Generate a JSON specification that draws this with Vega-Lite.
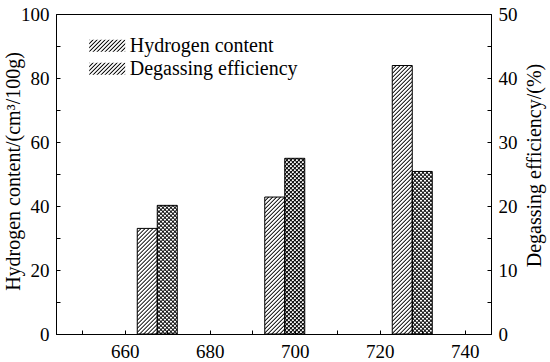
{
  "$schema": "https://vega.github.io/schema/vega-lite/v6.json",
  "autosize": "none",
  "width": 435,
  "height": 320,
  "padding": {"left": 56, "top": 14, "right": 59, "bottom": 28},
  "background": "white",
  "params": [
    {"name": "S", "value": [
      {"offset":0,"color":"#000"},{"offset":0.004,"color":"#0000"},{"offset":0.0085,"color":"#0000"},
      {"offset":0.0125,"color":"#000"},{"offset":0.0165,"color":"#0000"},{"offset":0.021,"color":"#0000"},
      {"offset":0.025,"color":"#000"},{"offset":0.029,"color":"#0000"},{"offset":0.0335,"color":"#0000"},
      {"offset":0.0375,"color":"#000"},{"offset":0.0415,"color":"#0000"},{"offset":0.046,"color":"#0000"},
      {"offset":0.05,"color":"#000"},{"offset":0.054,"color":"#0000"},{"offset":0.0585,"color":"#0000"},
      {"offset":0.0625,"color":"#000"},{"offset":0.0665,"color":"#0000"},{"offset":0.071,"color":"#0000"},
      {"offset":0.075,"color":"#000"},{"offset":0.079,"color":"#0000"},{"offset":0.0835,"color":"#0000"},
      {"offset":0.0875,"color":"#000"},{"offset":0.0915,"color":"#0000"},{"offset":0.096,"color":"#0000"},
      {"offset":0.1,"color":"#000"},{"offset":0.104,"color":"#0000"},{"offset":0.1085,"color":"#0000"},
      {"offset":0.1125,"color":"#000"},{"offset":0.1165,"color":"#0000"},{"offset":0.121,"color":"#0000"},
      {"offset":0.125,"color":"#000"},{"offset":0.129,"color":"#0000"},{"offset":0.1335,"color":"#0000"},
      {"offset":0.1375,"color":"#000"},{"offset":0.1415,"color":"#0000"},{"offset":0.146,"color":"#0000"},
      {"offset":0.15,"color":"#000"},{"offset":0.154,"color":"#0000"},{"offset":0.1585,"color":"#0000"},
      {"offset":0.1625,"color":"#000"},{"offset":0.1665,"color":"#0000"},{"offset":0.171,"color":"#0000"},
      {"offset":0.175,"color":"#000"},{"offset":0.179,"color":"#0000"},{"offset":0.1835,"color":"#0000"},
      {"offset":0.1875,"color":"#000"},{"offset":0.1915,"color":"#0000"},{"offset":0.196,"color":"#0000"},
      {"offset":0.2,"color":"#000"},{"offset":0.204,"color":"#0000"},{"offset":0.2085,"color":"#0000"},
      {"offset":0.2125,"color":"#000"},{"offset":0.2165,"color":"#0000"},{"offset":0.221,"color":"#0000"},
      {"offset":0.225,"color":"#000"},{"offset":0.229,"color":"#0000"},{"offset":0.2335,"color":"#0000"},
      {"offset":0.2375,"color":"#000"},{"offset":0.2415,"color":"#0000"},{"offset":0.246,"color":"#0000"},
      {"offset":0.25,"color":"#000"},{"offset":0.254,"color":"#0000"},{"offset":0.2585,"color":"#0000"},
      {"offset":0.2625,"color":"#000"},{"offset":0.2665,"color":"#0000"},{"offset":0.271,"color":"#0000"},
      {"offset":0.275,"color":"#000"},{"offset":0.279,"color":"#0000"},{"offset":0.2835,"color":"#0000"},
      {"offset":0.2875,"color":"#000"},{"offset":0.2915,"color":"#0000"},{"offset":0.296,"color":"#0000"},
      {"offset":0.3,"color":"#000"},{"offset":0.304,"color":"#0000"},{"offset":0.3085,"color":"#0000"},
      {"offset":0.3125,"color":"#000"},{"offset":0.3165,"color":"#0000"},{"offset":0.321,"color":"#0000"},
      {"offset":0.325,"color":"#000"},{"offset":0.329,"color":"#0000"},{"offset":0.3335,"color":"#0000"},
      {"offset":0.3375,"color":"#000"},{"offset":0.3415,"color":"#0000"},{"offset":0.346,"color":"#0000"},
      {"offset":0.35,"color":"#000"},{"offset":0.354,"color":"#0000"},{"offset":0.3585,"color":"#0000"},
      {"offset":0.3625,"color":"#000"},{"offset":0.3665,"color":"#0000"},{"offset":0.371,"color":"#0000"},
      {"offset":0.375,"color":"#000"},{"offset":0.379,"color":"#0000"},{"offset":0.3835,"color":"#0000"},
      {"offset":0.3875,"color":"#000"},{"offset":0.3915,"color":"#0000"},{"offset":0.396,"color":"#0000"},
      {"offset":0.4,"color":"#000"},{"offset":0.404,"color":"#0000"},{"offset":0.4085,"color":"#0000"},
      {"offset":0.4125,"color":"#000"},{"offset":0.4165,"color":"#0000"},{"offset":0.421,"color":"#0000"},
      {"offset":0.425,"color":"#000"},{"offset":0.429,"color":"#0000"},{"offset":0.4335,"color":"#0000"},
      {"offset":0.4375,"color":"#000"},{"offset":0.4415,"color":"#0000"},{"offset":0.446,"color":"#0000"},
      {"offset":0.45,"color":"#000"},{"offset":0.454,"color":"#0000"},{"offset":0.4585,"color":"#0000"},
      {"offset":0.4625,"color":"#000"},{"offset":0.4665,"color":"#0000"},{"offset":0.471,"color":"#0000"},
      {"offset":0.475,"color":"#000"},{"offset":0.479,"color":"#0000"},{"offset":0.4835,"color":"#0000"},
      {"offset":0.4875,"color":"#000"},{"offset":0.4915,"color":"#0000"},{"offset":0.496,"color":"#0000"},
      {"offset":0.5,"color":"#000"},{"offset":0.504,"color":"#0000"},{"offset":0.5085,"color":"#0000"},
      {"offset":0.5125,"color":"#000"},{"offset":0.5165,"color":"#0000"},{"offset":0.521,"color":"#0000"},
      {"offset":0.525,"color":"#000"},{"offset":0.529,"color":"#0000"},{"offset":0.5335,"color":"#0000"},
      {"offset":0.5375,"color":"#000"},{"offset":0.5415,"color":"#0000"},{"offset":0.546,"color":"#0000"},
      {"offset":0.55,"color":"#000"},{"offset":0.554,"color":"#0000"},{"offset":0.5585,"color":"#0000"},
      {"offset":0.5625,"color":"#000"},{"offset":0.5665,"color":"#0000"},{"offset":0.571,"color":"#0000"},
      {"offset":0.575,"color":"#000"},{"offset":0.579,"color":"#0000"},{"offset":0.5835,"color":"#0000"},
      {"offset":0.5875,"color":"#000"},{"offset":0.5915,"color":"#0000"},{"offset":0.596,"color":"#0000"},
      {"offset":0.6,"color":"#000"},{"offset":0.604,"color":"#0000"},{"offset":0.6085,"color":"#0000"},
      {"offset":0.6125,"color":"#000"},{"offset":0.6165,"color":"#0000"},{"offset":0.621,"color":"#0000"},
      {"offset":0.625,"color":"#000"},{"offset":0.629,"color":"#0000"},{"offset":0.6335,"color":"#0000"},
      {"offset":0.6375,"color":"#000"},{"offset":0.6415,"color":"#0000"},{"offset":0.646,"color":"#0000"},
      {"offset":0.65,"color":"#000"},{"offset":0.654,"color":"#0000"},{"offset":0.6585,"color":"#0000"},
      {"offset":0.6625,"color":"#000"},{"offset":0.6665,"color":"#0000"},{"offset":0.671,"color":"#0000"},
      {"offset":0.675,"color":"#000"},{"offset":0.679,"color":"#0000"},{"offset":0.6835,"color":"#0000"},
      {"offset":0.6875,"color":"#000"},{"offset":0.6915,"color":"#0000"},{"offset":0.696,"color":"#0000"},
      {"offset":0.7,"color":"#000"},{"offset":0.704,"color":"#0000"},{"offset":0.7085,"color":"#0000"},
      {"offset":0.7125,"color":"#000"},{"offset":0.7165,"color":"#0000"},{"offset":0.721,"color":"#0000"},
      {"offset":0.725,"color":"#000"},{"offset":0.729,"color":"#0000"},{"offset":0.7335,"color":"#0000"},
      {"offset":0.7375,"color":"#000"},{"offset":0.7415,"color":"#0000"},{"offset":0.746,"color":"#0000"},
      {"offset":0.75,"color":"#000"},{"offset":0.754,"color":"#0000"},{"offset":0.7585,"color":"#0000"},
      {"offset":0.7625,"color":"#000"},{"offset":0.7665,"color":"#0000"},{"offset":0.771,"color":"#0000"},
      {"offset":0.775,"color":"#000"},{"offset":0.779,"color":"#0000"},{"offset":0.7835,"color":"#0000"},
      {"offset":0.7875,"color":"#000"},{"offset":0.7915,"color":"#0000"},{"offset":0.796,"color":"#0000"},
      {"offset":0.8,"color":"#000"},{"offset":0.804,"color":"#0000"},{"offset":0.8085,"color":"#0000"},
      {"offset":0.8125,"color":"#000"},{"offset":0.8165,"color":"#0000"},{"offset":0.821,"color":"#0000"},
      {"offset":0.825,"color":"#000"},{"offset":0.829,"color":"#0000"},{"offset":0.8335,"color":"#0000"},
      {"offset":0.8375,"color":"#000"},{"offset":0.8415,"color":"#0000"},{"offset":0.846,"color":"#0000"},
      {"offset":0.85,"color":"#000"},{"offset":0.854,"color":"#0000"},{"offset":0.8585,"color":"#0000"},
      {"offset":0.8625,"color":"#000"},{"offset":0.8665,"color":"#0000"},{"offset":0.871,"color":"#0000"},
      {"offset":0.875,"color":"#000"},{"offset":0.879,"color":"#0000"},{"offset":0.8835,"color":"#0000"},
      {"offset":0.8875,"color":"#000"},{"offset":0.8915,"color":"#0000"},{"offset":0.896,"color":"#0000"},
      {"offset":0.9,"color":"#000"},{"offset":0.904,"color":"#0000"},{"offset":0.9085,"color":"#0000"},
      {"offset":0.9125,"color":"#000"},{"offset":0.9165,"color":"#0000"},{"offset":0.921,"color":"#0000"},
      {"offset":0.925,"color":"#000"},{"offset":0.929,"color":"#0000"},{"offset":0.9335,"color":"#0000"},
      {"offset":0.9375,"color":"#000"},{"offset":0.9415,"color":"#0000"},{"offset":0.946,"color":"#0000"},
      {"offset":0.95,"color":"#000"},{"offset":0.954,"color":"#0000"},{"offset":0.9585,"color":"#0000"},
      {"offset":0.9625,"color":"#000"},{"offset":0.9665,"color":"#0000"},{"offset":0.971,"color":"#0000"},
      {"offset":0.975,"color":"#000"},{"offset":0.979,"color":"#0000"},{"offset":0.9835,"color":"#0000"},
      {"offset":0.9875,"color":"#000"},{"offset":0.9915,"color":"#0000"},{"offset":0.996,"color":"#0000"},
      {"offset":1,"color":"#000"}
    ]}
  ],
  "data": {"values": [
    {"temperature": 670, "series": "Hydrogen content", "amount": 33.0},
    {"temperature": 700, "series": "Hydrogen content", "amount": 42.8},
    {"temperature": 730, "series": "Hydrogen content", "amount": 83.9},
    {"temperature": 670, "series": "Degassing efficiency", "amount": 20.1},
    {"temperature": 700, "series": "Degassing efficiency", "amount": 27.45},
    {"temperature": 730, "series": "Degassing efficiency", "amount": 25.4}
  ]},
  "encoding": {
    "x": {
      "field": "temperature", "type": "quantitative",
      "scale": {"domain": [645, 745], "nice": false, "zero": false},
      "axis": {
        "orient": "bottom", "title": null,
        "values": [650, 660, 670, 680, 690, 700, 710, 720, 730, 740],
        "labelExpr": "datum.value % 20 === 0 ? datum.label : ''",
        "labelPadding": 12
      }
    }
  },
  "layer": [
    {
      "transform": [{"filter": "datum.series === 'Hydrogen content'"}],
      "mark": {
        "type": "bar", "width": 20, "xOffset": -20, "stroke": "black", "strokeWidth": 1,
        "fill": {"expr": "isValid(datum.amount) ? {gradient: 'linear', x1: 0, y1: 0, x2: 6400 / (400 + pow(3.2 * datum.amount, 2)), y2: 1024 * datum.amount / (400 + pow(3.2 * datum.amount, 2)), stops: S} : {gradient: 'linear', x1: 0, y1: 0, x2: 8, y2: 2.6667, stops: S}"}
      },
      "encoding": {
        "y": {
          "field": "amount", "type": "quantitative",
          "scale": {"domain": [0, 100], "nice": false, "zero": true},
          "axis": {
            "orient": "left",
            "title": "Hydrogen content/(cm³/100g)",
            "values": [0, 10, 20, 30, 40, 50, 60, 70, 80, 90, 100],
            "labelExpr": "datum.value % 20 === 0 ? datum.label : ''",
            "labelPadding": 11,
            "titlePadding": -3,
            "titleY": 157
          }
        },
        "opacity": {
          "field": "series", "type": "nominal",
          "scale": {"domain": ["Hydrogen content", "Degassing efficiency"], "range": [1, 1]},
          "legend": {
            "orient": "none", "legendX": 38.7, "legendY": 19.2, "title": null,
            "symbolStrokeColor": "black", "symbolStrokeWidth": 1, "symbolOpacity": 1
          }
        }
      }
    },
    {
      "transform": [{"filter": "datum.series === 'Degassing efficiency'"}],
      "encoding": {
        "y": {
          "field": "amount", "type": "quantitative",
          "scale": {"domain": [0, 50], "nice": false, "zero": true},
          "axis": {
            "orient": "right",
            "title": "Degassing efficiency/(%)",
            "titleAngle": -90, "titleBaseline": "top",
            "values": [0, 5, 10, 15, 20, 25, 30, 35, 40, 45, 50],
            "labelExpr": "datum.value % 10 === 0 ? datum.label : ''",
            "labelPadding": 11,
            "titlePadding": 7,
            "titleY": 151
          }
        }
      },
      "layer": [
        {
          "mark": {
            "type": "bar", "width": 20, "stroke": "black", "strokeWidth": 1,
            "fill": {"expr": "isValid(datum.amount) ? {gradient: 'linear', x1: 0, y1: 0, x2: 6400 / (400 + pow(6.4 * datum.amount, 2)), y2: 2048 * datum.amount / (400 + pow(6.4 * datum.amount, 2)), stops: S} : {gradient: 'linear', x1: 0, y1: 0, x2: 8, y2: 2.6667, stops: S}"}
          },
          "encoding": {
            "opacity": {
              "field": "series", "type": "nominal",
              "scale": {"domain": ["Hydrogen content", "Degassing efficiency"], "range": [1, 1]}
            }
          }
        },
        {
          "mark": {
            "type": "bar", "width": 20,
            "fill": {"expr": "isValid(datum.amount) ? {gradient: 'linear', x1: 0, y1: 1, x2: 6400 / (400 + pow(6.4 * datum.amount, 2)), y2: 1 - 2048 * datum.amount / (400 + pow(6.4 * datum.amount, 2)), stops: S} : {gradient: 'linear', x1: 0, y1: 1, x2: 8, y2: -1.6667, stops: S}"}
          },
          "encoding": {
            "fillOpacity": {
              "field": "series", "type": "nominal",
              "scale": {"domain": ["Degassing efficiency"], "range": [1]},
              "legend": {
                "orient": "none", "legendX": 38.7, "legendY": 43.2, "title": null,
                "labelOpacity": 0, "symbolStrokeColor": "transparent", "symbolOpacity": 1
              }
            }
          }
        }
      ]
    }
  ],
  "resolve": {"scale": {"y": "independent"}},
  "config": {
    "font": "Liberation Serif",
    "view": {"stroke": "black", "strokeWidth": 1},
    "axis": {
      "grid": false,
      "domainColor": "black", "domainWidth": 1,
      "tickColor": "black", "tickWidth": 1, "tickSize": -4,
      "labelColor": "black", "labelFont": "Liberation Serif", "labelFontSize": 19,
      "labelFlush": false, "labelOverlap": false,
      "titleColor": "black", "titleFont": "Liberation Serif", "titleFontSize": 20, "titleFontWeight": "normal"
    },
    "legend": {
      "symbolType": "M-1.5,-0.5H1.5V0.5H-1.5Z",
      "symbolSize": 576,
      "labelFont": "Liberation Serif", "labelFontSize": 20, "labelColor": "black",
      "labelOffset": 10, "labelLimit": 400,
      "rowPadding": 0, "padding": 0
    }
  }
}
